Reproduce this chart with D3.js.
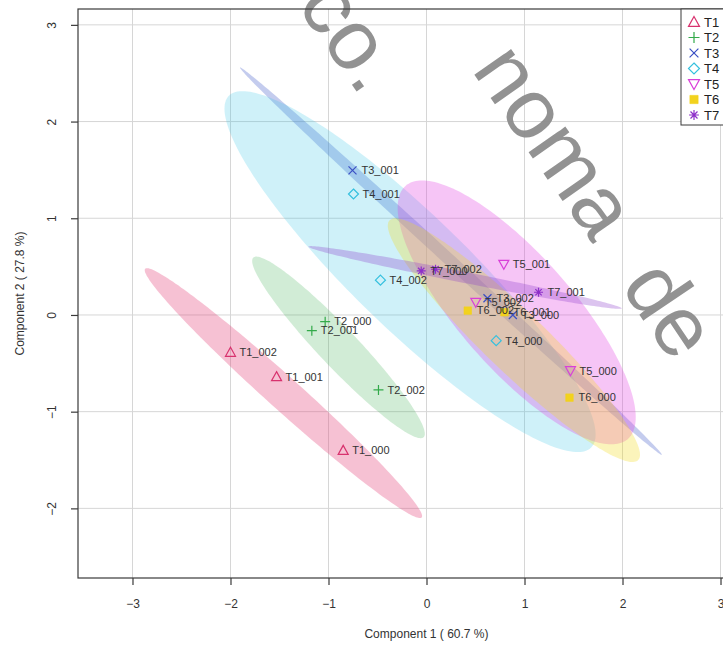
<!DOCTYPE html>
<html>
<head>
<meta charset="utf-8">
<script src="https://cdn.jsdelivr.net/npm/d3@7"></script>
<style>
  html, body { margin: 0; padding: 0; background: #fff; }
  svg { display: block; font-family: "Liberation Sans", Arial, Helvetica, sans-serif; }
</style>
</head>
<body>
<svg id="chart" width="723" height="647"></svg>
<script>
// Sample scores on the first two components
const sampleNames = [
  "T1_000", "T1_001", "T1_002",
  "T2_000", "T2_001", "T2_002",
  "T3_000", "T3_001", "T3_002",
  "T4_000", "T4_001", "T4_002",
  "T5_000", "T5_001", "T5_002",
  "T6_000", "T6_001", "T6_002",
  "T7_000", "T7_001", "T7_002"
];
const sampleGroup = [
  "T1", "T1", "T1", "T2", "T2", "T2", "T3", "T3", "T3",
  "T4", "T4", "T4", "T5", "T5", "T5", "T6", "T6", "T6",
  "T7", "T7", "T7"
];
const comp1 = [
  -0.85, -1.53, -2.00,
  -1.034, -1.17, -0.49,
  0.881, -0.755, 0.622,
  0.711, -0.745, -0.47,
  1.469, 0.789, 0.503,
  1.459, 0.796, 0.421,
  -0.054, 1.143, 0.092
];
const comp2 = [
  -1.40, -0.638, -0.386,
  -0.069, -0.162, -0.775,
  0.0, 1.496, 0.173,
  -0.266, 1.251, 0.36,
  -0.576, 0.524, 0.131,
  -0.855, 0.028, 0.045,
  0.455, 0.235, 0.473
];

const groups = ["T1", "T2", "T3", "T4", "T5", "T6", "T7"];
const groupColors = ["#D8326E", "#33AA4A", "#3A4FC4", "#35C0DE", "#D93FD9", "#F2D21E", "#8E2FC9"];
const ellipseFills = ["#E4487F", "#3FB055", "#3D55C8", "#35C3E6", "#E040E0", "#F2DC1E", "#8A3ACB"];
const ellipseOpacity = [0.34, 0.24, 0.30, 0.24, 0.30, 0.30, 0.30];

const xTicks = [-3, -2, -1, 0, 1, 2, 3];
const yTicks = [-2, -1, 0, 1, 2, 3];
const xTitle = "Component 1 ( 60.7 %)";
const yTitle = "Component 2 ( 27.8 %)";
const ellipseLevel = 0.95;

const svg = d3.select("#chart");
const plot = { left: 78, right: 775, top: 9, bottom: 578 };

const x = d3.scaleLinear().domain([-3.556, 3.556]).range([plot.left, plot.right]);
const y = d3.scaleLinear().domain([-2.72, 3.164]).range([plot.bottom, plot.top]);

svg.append("defs").append("clipPath").attr("id", "plotClip")
  .append("rect")
  .attr("x", plot.left).attr("y", plot.top)
  .attr("width", plot.right - plot.left).attr("height", plot.bottom - plot.top);

// grid
const grid = svg.append("g").attr("stroke", "#d6d6d6").attr("stroke-width", 1);
grid.selectAll("line.gx").data(xTicks).join("line")
  .attr("x1", d => x(d)).attr("x2", d => x(d))
  .attr("y1", plot.top).attr("y2", plot.bottom);
grid.selectAll("line.gy").data(yTicks).join("line")
  .attr("y1", d => y(d)).attr("y2", d => y(d))
  .attr("x1", plot.left).attr("x2", plot.right);

// confidence ellipses from each group's covariance
const chi = Math.sqrt(-2 * Math.log(1 - ellipseLevel));
function ellipsePoints(g) {
  const idx = sampleGroup.map((s, i) => s === g ? i : -1).filter(i => i >= 0);
  const n = idx.length;
  const mx = d3.mean(idx, i => comp1[i]);
  const my = d3.mean(idx, i => comp2[i]);
  let sxx = 0, syy = 0, sxy = 0;
  idx.forEach(i => {
    const dx = comp1[i] - mx, dy = comp2[i] - my;
    sxx += dx * dx; syy += dy * dy; sxy += dx * dy;
  });
  sxx /= n - 1; syy /= n - 1; sxy /= n - 1;
  const tr = sxx + syy, det = sxx * syy - sxy * sxy;
  const disc = Math.sqrt(Math.max(0, tr * tr / 4 - det));
  const l1 = tr / 2 + disc, l2 = Math.max(0, tr / 2 - disc);
  let vx = sxy, vy = l1 - sxx;
  if (Math.abs(vx) < 1e-12 && Math.abs(vy) < 1e-12) { vx = 1; vy = 0; }
  const norm = Math.hypot(vx, vy);
  vx /= norm; vy /= norm;
  const a = chi * Math.sqrt(l1), b = chi * Math.sqrt(l2);
  return d3.range(0, 200).map(k => {
    const t = (k / 200) * 2 * Math.PI;
    const u = a * Math.cos(t), v = b * Math.sin(t);
    return [mx + u * vx - v * vy, my + u * vy + v * vx];
  });
}

const line = d3.line().x(d => x(d[0])).y(d => y(d[1])).curve(d3.curveLinearClosed);
svg.append("g").attr("clip-path", "url(#plotClip)")
  .selectAll("path").data(groups).join("path")
  .attr("d", g => line(ellipsePoints(g)))
  .attr("fill", (g, i) => ellipseFills[i])
  .attr("fill-opacity", (g, i) => ellipseOpacity[i])
  .attr("stroke", "none");

// point symbols
function symbolPath(gi, s) {
  const h = s / 2;
  switch (gi) {
    case 0: return `M0,${-h} L${h},${h * 0.8} L${-h},${h * 0.8} Z`;
    case 1: return `M${-h},0 L${h},0 M0,${-h} L0,${h}`;
    case 2: return `M${-h * 0.8},${-h * 0.8} L${h * 0.8},${h * 0.8} M${-h * 0.8},${h * 0.8} L${h * 0.8},${-h * 0.8}`;
    case 3: return `M0,${-h} L${h},0 L0,${h} L${-h},0 Z`;
    case 4: return `M0,${h} L${h},${-h * 0.8} L${-h},${-h * 0.8} Z`;
    case 5: return `M${-h * 0.75},${-h * 0.75} H${h * 0.75} V${h * 0.75} H${-h * 0.75} Z`;
    default: {
      const r = h * 0.9, p = [];
      for (let k = 0; k < 4; k++) {
        const ang = k * Math.PI / 4;
        p.push(`M${-r * Math.cos(ang)},${-r * Math.sin(ang)} L${r * Math.cos(ang)},${r * Math.sin(ang)}`);
      }
      return p.join(" ");
    }
  }
}
function styleSymbol(sel, gi, size) {
  sel.attr("d", symbolPath(gi, size || 10))
    .attr("fill", gi === 5 ? groupColors[gi] : "none")
    .attr("stroke", groupColors[gi])
    .attr("stroke-width", gi === 5 ? 0.6 : 1.2);
}

const pts = svg.append("g");
sampleNames.forEach((name, i) => {
  const gi = groups.indexOf(sampleGroup[i]);
  pts.append("path")
    .attr("transform", `translate(${x(comp1[i])},${y(comp2[i])})`)
    .call(styleSymbol, gi);
});
const labels = svg.append("g").attr("font-size", 11).attr("fill", "#333");
sampleNames.forEach((name, i) => {
  labels.append("text")
    .attr("x", x(comp1[i]) + 9)
    .attr("y", y(comp2[i]))
    .attr("dy", "0.35em")
    .text(name);
});

// watermark
const wm = svg.append("g").attr("fill", "#8c8c8c").attr("fill-opacity", 0.95)
  .attr("font-size", 85).attr("font-family", "Liberation Sans, Arial, sans-serif");
wm.append("text").attr("transform", "translate(296,5) rotate(55)").text("co.");
wm.append("text").attr("transform", "translate(471,70) rotate(55)").text("noma");
wm.append("text").attr("transform", "translate(620,286) rotate(56)").text("de");

// frame
svg.append("rect")
  .attr("x", plot.left).attr("y", plot.top)
  .attr("width", plot.right - plot.left).attr("height", plot.bottom - plot.top)
  .attr("fill", "none").attr("stroke", "#3a3a3a").attr("stroke-width", 1.2);

// axes
const xAxis = d3.axisBottom(x).tickValues(xTicks).tickSize(7).tickPadding(14).tickFormat(d3.format("d"));
const gx = svg.append("g").attr("transform", `translate(0,${plot.bottom})`).call(xAxis);
gx.select(".domain").remove();
gx.selectAll("line").attr("stroke", "#3a3a3a").attr("stroke-width", 1.2);
gx.selectAll("text").attr("font-size", 12).attr("fill", "#333")
  .attr("font-family", "Liberation Sans, Arial, sans-serif");

const yAxis = d3.axisLeft(y).tickValues(yTicks).tickSize(7).tickFormat(d3.format("d"));
const gy = svg.append("g").attr("transform", `translate(${plot.left},0)`).call(yAxis);
gy.select(".domain").remove();
gy.selectAll("line").attr("stroke", "#3a3a3a").attr("stroke-width", 1.2);
gy.selectAll("text")
  .attr("font-size", 12).attr("fill", "#333")
  .attr("font-family", "Liberation Sans, Arial, sans-serif")
  .attr("x", 0).attr("dy", 0)
  .attr("text-anchor", "middle")
  .attr("transform", "translate(-26,0) rotate(-90)")
  .attr("y", 4);

svg.append("text")
  .attr("x", (plot.left + plot.right) / 2).attr("y", 638)
  .attr("text-anchor", "middle").attr("font-size", 12).attr("fill", "#333")
  .text(xTitle);
svg.append("text")
  .attr("transform", `translate(24,${(plot.top + plot.bottom) / 2}) rotate(-90)`)
  .attr("text-anchor", "middle").attr("font-size", 12).attr("fill", "#333")
  .text(yTitle);

// legend
const leg = svg.append("g").attr("transform", "translate(681,9)");
leg.append("rect").attr("width", 120).attr("height", 116)
  .attr("fill", "#fff").attr("stroke", "#3a3a3a").attr("stroke-width", 1);
groups.forEach((g, gi) => {
  const row = leg.append("g").attr("transform", `translate(0,${13 + gi * 15.5})`);
  row.append("path").attr("transform", "translate(13,0)").call(styleSymbol, gi, 11);
  row.append("text").attr("x", 23).attr("dy", "0.36em")
    .attr("font-size", 13).attr("fill", "#222").text(g);
});
</script>
</body>
</html>
